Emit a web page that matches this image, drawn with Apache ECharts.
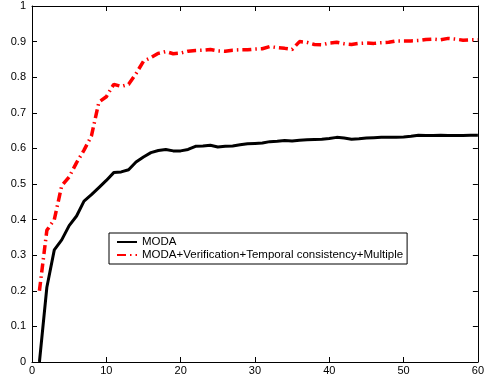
<!DOCTYPE html>
<html>
<head>
<meta charset="utf-8">
<script src="https://cdn.jsdelivr.net/npm/echarts@6/dist/echarts.min.js"></script>
<style>
  html, body { margin: 0; padding: 0; background: #fff; }
  #chart { width: 487px; height: 376px; }
</style>
</head>
<body>
<div id="chart"></div>
<script>
// frame index 1..60
const frames = Array.from({ length: 60 }, (_, i) => i + 1);

const moda = [
  0, 0.21, 0.315, 0.343, 0.383, 0.41, 0.452, 0.47, 0.49, 0.51,
  0.532, 0.534, 0.54, 0.562, 0.576, 0.588, 0.594, 0.597, 0.593, 0.593,
  0.597, 0.606, 0.607, 0.609, 0.604, 0.606, 0.607, 0.61, 0.613, 0.614,
  0.615, 0.619, 0.62, 0.622, 0.621, 0.623, 0.624, 0.625, 0.626, 0.628,
  0.631, 0.629, 0.626, 0.627, 0.629, 0.63, 0.631, 0.631, 0.631, 0.632,
  0.634, 0.637, 0.636, 0.636, 0.637, 0.636, 0.636, 0.636, 0.637, 0.637
];

const modaFull = [
  0.2, 0.37, 0.4, 0.495, 0.52, 0.56, 0.595, 0.635, 0.73, 0.745,
  0.78, 0.774, 0.78, 0.81, 0.845, 0.855, 0.867, 0.872, 0.866, 0.868,
  0.873, 0.875, 0.876, 0.878, 0.874, 0.873, 0.876, 0.877, 0.877, 0.879,
  0.88, 0.886, 0.883, 0.881, 0.878, 0.9, 0.898, 0.892, 0.891, 0.896,
  0.898, 0.894, 0.892, 0.895, 0.896, 0.895, 0.897, 0.898, 0.902, 0.902,
  0.902, 0.903, 0.906, 0.907, 0.905, 0.909, 0.907, 0.904, 0.905, 0.905
];

const legendNames = ['MODA', 'MODA+Verification+Temporal consistency+Multiple'];

const chart = echarts.init(document.getElementById('chart'));

const axisLine = { show: true, onZero: false, lineStyle: { color: '#000', width: 1 } };
const axisTick = { show: true, inside: true, length: 5, lineStyle: { color: '#000' } };
const axisLabel = { color: '#000', fontFamily: 'Liberation Sans, Arial', fontSize: 11 };

chart.setOption({
  animation: false,
  grid: { left: 32, right: 5, top: 6, bottom: 14 },
  legend: {
    data: legendNames,
    orient: 'vertical',
    left: 109,
    top: 233,
    backgroundColor: '#fff',
    borderColor: '#000',
    borderWidth: 1,
    borderRadius: 0,
    padding: [3, 4, 3, 7],
    itemGap: 1,
    itemWidth: 20,
    itemHeight: 11,
    itemStyle: { opacity: 0 },
    textStyle: { color: '#000', fontFamily: 'Liberation Sans, Arial', fontSize: 11.5 }
  },
  xAxis: [
    {
      type: 'value', min: 0, max: 60, interval: 10,
      axisLine, axisTick, axisLabel: { ...axisLabel, margin: 3 },
      splitLine: { show: false }
    },
    {
      type: 'value', min: 0, max: 60, interval: 10, position: 'top',
      axisLine, axisTick, axisLabel: { show: false },
      splitLine: { show: false }
    }
  ],
  yAxis: [
    {
      type: 'value', min: 0, max: 1, interval: 0.1,
      axisLine, axisTick, axisLabel: { ...axisLabel, margin: 6 },
      splitLine: { show: false }
    },
    {
      type: 'value', min: 0, max: 1, interval: 0.1, position: 'right',
      axisLine, axisTick, axisLabel: { show: false },
      splitLine: { show: false }
    }
  ],
  series: [
    {
      name: legendNames[0],
      type: 'line',
      data: frames.map((f, i) => [f, moda[i]]),
      symbol: 'none',
      lineStyle: { color: '#000', width: 3 },
      itemStyle: { color: '#000' }
    },
    {
      name: legendNames[1],
      type: 'line',
      data: frames.map((f, i) => [f, modaFull[i]]),
      symbol: 'none',
      lineStyle: { color: '#ff0000', width: 3.5, type: [9, 4, 1.5, 4] },
      itemStyle: { color: '#ff0000' }
    }
  ]
});
</script>
</body>
</html>
